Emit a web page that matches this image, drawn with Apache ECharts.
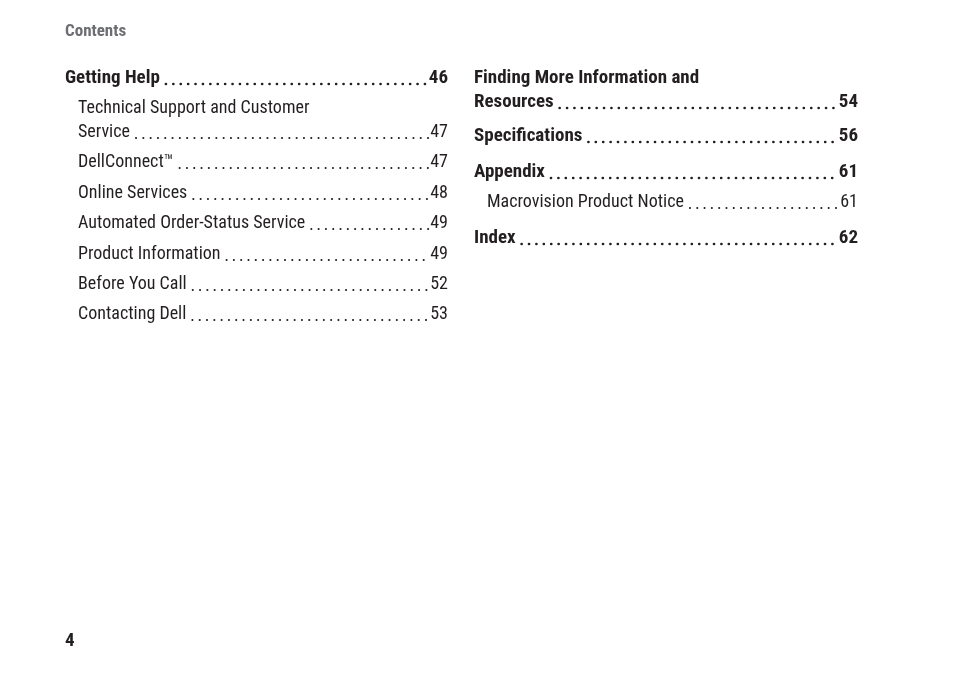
<!DOCTYPE html>
<html><head><meta charset="utf-8">
<script src="https://cdn.jsdelivr.net/npm/echarts@6/dist/echarts.min.js"></script>
<style>html,body{margin:0;background:#fff}#c{width:954px;height:677px}</style>
</head><body><div id="c"></div>
<script>
const pageTitle = "Contents";
const pageNumber = "4";
const leftTitles = [["Getting Help"],["Technical Support and Customer","Service"],["DellConnect™"],["Online Services"],["Automated Order-Status Service"],["Product Information"],["Before You Call"],["Contacting Dell"]];
const leftPages = ["46","47","47","48","49","49","52","53"];
const leftLevels = [1,2,2,2,2,2,2,2];
const rightTitles = [["Finding More Information and","Resources"],["Specifications"],["Appendix"],["Macrovision Product Notice"],["Index"]];
const rightPages = ["54","56","61","61","62"];
const rightLevels = [1,1,1,2,1];

const FONT = '"Liberation Sans Narrow","Roboto Condensed","Liberation Sans",sans-serif';
const cv = document.createElement('canvas').getContext('2d');
function w(t, f){ cv.font = f; return cv.measureText(t).width; }
const els = [];
function txt(x,y,t,size,bold,color,align){
  els.push({type:'text',left:null,x:x,y:y,style:{text:t,x:0,y:0,fill:color||'#231f20',
    font:(bold?'bold ':'')+size+'px '+FONT,textAlign:align||'left',textVerticalAlign:'middle'}});
}
function column(titles,pages,levels,x0,x1,ys){
  titles.forEach((lines,i)=>{
    const lvl=levels[i], size=lvl===1?19:18, bold=lvl===1;
    const x = lvl===1?x0:x0+13;
    let y = ys[i];
    lines.forEach((ln,j)=>{ txt(x,y+j*24,ln,size,bold); });
    const ly = y+(lines.length-1)*24;
    const f=(bold?'bold ':'')+size+'px '+FONT;
    txt(x1,ly,pages[i],size,bold,null,'right');
    const sx = x + w(lines[lines.length-1],f)+6;
    const ex = x1 - w(pages[i],f)-2;
    els.push({type:'line',shape:{x1:sx,y1:ly+6,x2:ex,y2:ly+6},
      style:{stroke:'#231f20',lineWidth:bold?2.6:2,lineDash:bold?[0.1,7.3]:[0.1,7.2],lineCap:'round'}});
  });
}
txt(65,32,pageTitle,17,true,'#6d6e71');
txt(65,641,pageNumber,19,true);
column(leftTitles,leftPages,leftLevels,65,448,[78,108,162,193,223,254,284,314]);
column(rightTitles,rightPages,rightLevels,474,858,[78,136,172,202,238]);
const chart = echarts.init(document.getElementById('c'));
chart.setOption({graphic:{elements:els}});
</script></body></html>
